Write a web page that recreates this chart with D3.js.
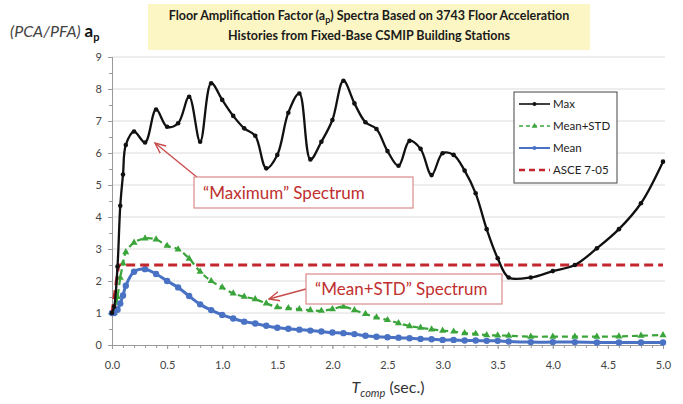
<!DOCTYPE html>
<html>
<head>
<meta charset="utf-8">
<script src="https://cdn.jsdelivr.net/npm/d3@7"></script>
<style>
  body { margin: 0; background: #fff; }
  svg { display: block; font-family: Lato, "Open Sans", sans-serif; }
</style>
</head>
<body>
<div id="chart"></div>
<script>
// periods (sec.) shared by the three spectra
const periods = [0, 0.02, 0.05, 0.075, 0.1, 0.125,
  0.2, 0.3, 0.4, 0.5, 0.6, 0.7, 0.8, 0.9, 1.0, 1.1, 1.2, 1.3, 1.4, 1.5, 1.6, 1.7, 1.8, 1.9,
  2.0, 2.1, 2.2, 2.3, 2.4, 2.5, 2.6, 2.7, 2.8, 2.9, 3.0, 3.1, 3.2, 3.3, 3.4, 3.5, 3.6,
  3.8, 4.0, 4.2, 4.4, 4.6, 4.8, 5.0];

const maxValues = [1.0, 1.2, 2.45, 4.35, 5.33, 6.25,
  6.67, 6.33, 7.36, 6.82, 6.93, 7.76, 6.35, 8.18, 7.66, 7.16, 6.77, 6.54, 5.52, 5.94, 7.26, 7.86, 5.80, 6.35,
  7.03, 8.26, 7.55, 6.96, 6.75, 6.06, 5.60, 6.38, 6.13, 5.31, 5.99, 5.94, 5.45, 4.74, 3.62, 2.71, 2.11,
  2.11, 2.31, 2.50, 3.02, 3.62, 4.43, 5.73];

const meanStdValues = [1.0, 1.02, 1.5, 2.1, 2.55, 2.9,
  3.2, 3.33, 3.30, 3.10, 2.99, 2.70, 2.29, 2.0, 1.8, 1.61, 1.51, 1.43, 1.30, 1.18, 1.15, 1.12, 1.09, 1.07,
  1.12, 1.20, 1.09, 0.97, 0.86, 0.78, 0.68, 0.59, 0.54, 0.49, 0.45, 0.42, 0.37, 0.35, 0.31, 0.30, 0.29,
  0.26, 0.26, 0.26, 0.26, 0.27, 0.29, 0.31];

const meanValues = [1.0, 1.0, 1.1, 1.3, 1.55, 1.85,
  2.29, 2.37, 2.22, 2.0, 1.8, 1.53, 1.27, 1.09, 0.94, 0.83, 0.73, 0.67, 0.60, 0.54, 0.51, 0.48, 0.45, 0.42,
  0.39, 0.37, 0.34, 0.29, 0.26, 0.24, 0.23, 0.21, 0.19, 0.18, 0.16, 0.16, 0.14, 0.14, 0.13, 0.13, 0.11,
  0.09, 0.09, 0.09, 0.08, 0.08, 0.08, 0.08];

// ASCE 7-05 design line
const asceT = [0, 0.06, 5.0];
const asceValues = [1.0, 2.5, 2.5];

const xTickLabels = [0, 0.5, 1, 1.5, 2, 2.5, 3, 3.5, 4, 4.5, 5];
const yTickLabels = [0, 1, 2, 3, 4, 5, 6, 7, 8, 9];
const legendLabels = ["Max", "Mean+STD", "Mean", "ASCE 7-05"];

const width = 683, height = 404;
const margin = { left: 112, right: 20, top: 57, bottom: 59 };

const svg = d3.select("#chart").append("svg")
  .attr("width", width)
  .attr("height", height);

const x = d3.scaleLinear().domain([0, 5]).range([margin.left, width - margin.right]);
const y = d3.scaleLinear().domain([0, 9]).range([height - margin.bottom, margin.top]);

// title box
svg.append("rect")
  .attr("x", 148).attr("y", 4).attr("width", 442).attr("height", 46)
  .attr("fill", "#fcf6c4");

const title1 = svg.append("text")
  .attr("x", 369).attr("y", 20)
  .attr("text-anchor", "middle")
  .style("font-size", "12.5px").style("font-weight", "bold").attr("fill", "#1a1a1a");
title1.append("tspan").text("Floor Amplification  Factor (a");
title1.append("tspan").attr("dy", 3).style("font-size", "9px").text("p");
title1.append("tspan").attr("dy", -3).text(") Spectra Based on 3743 Floor Acceleration");

svg.append("text")
  .attr("x", 369).attr("y", 40)
  .attr("text-anchor", "middle")
  .style("font-size", "12.5px").style("font-weight", "bold").attr("fill", "#1a1a1a")
  .text("Histories from Fixed-Base CSMIP Building Stations");

// y label
const yLabel = svg.append("text").attr("x", 10).attr("y", 37).attr("fill", "#444");
yLabel.append("tspan").style("font-size", "16px").style("font-style", "italic").text("(PCA/PFA) ");
yLabel.append("tspan").style("font-size", "17px").style("font-weight", "bold").attr("fill", "#111").text("a");
yLabel.append("tspan").attr("dy", 4).style("font-size", "11px").style("font-weight", "bold").attr("fill", "#111").text("p");

// gridlines
svg.append("g")
  .selectAll("line")
  .data(yTickLabels.filter(d => d > 0))
  .enter()
  .append("line")
    .attr("x1", x(0)).attr("x2", x(5) + 2)
    .attr("y1", d => y(d)).attr("y2", d => y(d))
    .attr("stroke", "#dcdcdc");

// axes
const xAxis = svg.append("g")
  .attr("transform", `translate(0,${y(0)})`)
  .call(d3.axisBottom(x).tickValues(xTickLabels).tickFormat(d3.format(".1f")).tickSize(4).tickPadding(12));
const xMinor = svg.append("g")
  .attr("transform", `translate(0,${y(0)})`)
  .call(d3.axisBottom(x).ticks(50).tickFormat("").tickSize(3));
const yAxis = svg.append("g")
  .attr("transform", `translate(${x(0)},0)`)
  .call(d3.axisLeft(y).tickValues(yTickLabels).tickSize(4).tickPadding(6));
const yMinor = svg.append("g")
  .attr("transform", `translate(${x(0)},0)`)
  .call(d3.axisLeft(y).ticks(18).tickFormat("").tickSize(3));

[xAxis, xMinor, yAxis, yMinor].forEach(g => {
  g.select(".domain").attr("stroke", "#9a9a9a");
  g.selectAll(".tick line").attr("stroke", "#9a9a9a");
  g.selectAll(".tick text").attr("fill", "#444").style("font-size", "11px").style("font-family", "Lato, sans-serif");
});

// x label
const xLabel = svg.append("text")
  .attr("x", 388).attr("y", 393)
  .attr("text-anchor", "middle").attr("fill", "#333")
  .style("font-size", "16px");
xLabel.append("tspan").style("font-style", "italic").text("T");
xLabel.append("tspan").attr("dy", 4).style("font-style", "italic").style("font-size", "11px").text("comp");
xLabel.append("tspan").attr("dy", -4).text(" (sec.)");

const line = d3.line()
  .x(d => x(d.t))
  .y(d => y(d.v))
  .curve(d3.curveCatmullRom.alpha(0.5));

const maxData = periods.map((t, i) => ({ t, v: maxValues[i] }));
const meanStdData = periods.map((t, i) => ({ t, v: meanStdValues[i] }));
const meanData = periods.map((t, i) => ({ t, v: meanValues[i] }));
const asceData = asceT.map((t, i) => ({ t, v: asceValues[i] }));

const green = "#3aa53a", blue = "#4a72c4", red = "#c4262e";

// Mean+STD
svg.append("path")
  .datum(meanStdData)
  .attr("fill", "none").attr("stroke", green)
  .attr("stroke-width", 2.2).attr("stroke-dasharray", "6,4")
  .attr("d", line);
svg.append("g")
  .selectAll("path")
  .data(meanStdData)
  .enter()
  .append("path")
    .attr("transform", d => `translate(${x(d.t)},${y(d.v)})`)
    .attr("d", d3.symbol().type(d3.symbolTriangle).size(22))
    .attr("fill", green);

// Mean
svg.append("path")
  .datum(meanData)
  .attr("fill", "none").attr("stroke", blue)
  .attr("stroke-width", 3)
  .attr("d", line);
svg.append("g")
  .selectAll("circle")
  .data(meanData)
  .enter()
  .append("circle")
    .attr("cx", d => x(d.t)).attr("cy", d => y(d.v))
    .attr("r", 3.2)
    .attr("fill", blue);

// ASCE 7-05
svg.append("path")
  .datum(asceData)
  .attr("fill", "none").attr("stroke", red)
  .attr("stroke-width", 3).attr("stroke-dasharray", "9,5")
  .attr("d", d3.line().x(d => x(d.t)).y(d => y(d.v)));

// Max
svg.append("path")
  .datum(maxData)
  .attr("fill", "none").attr("stroke", "#111")
  .attr("stroke-width", 2.3)
  .attr("d", line);
svg.append("g")
  .selectAll("circle")
  .data(maxData)
  .enter()
  .append("circle")
    .attr("cx", d => x(d.t)).attr("cy", d => y(d.v))
    .attr("r", 2.3)
    .attr("fill", "#111");

// annotations
const defs = svg.append("defs");
defs.append("marker")
  .attr("id", "arrow")
  .attr("viewBox", "0 0 10 10")
  .attr("refX", 9).attr("refY", 5)
  .attr("markerWidth", 9).attr("markerHeight", 9)
  .attr("orient", "auto")
  .append("path")
    .attr("d", "M0,1 L9,5 L0,9")
    .attr("fill", "none").attr("stroke", "#c84a4a").attr("stroke-width", 1.2);

function callout(bx, by, bw, bh, label, ax1, ay1, ax2, ay2) {
  svg.append("line")
    .attr("x1", ax1).attr("y1", ay1).attr("x2", ax2).attr("y2", ay2)
    .attr("stroke", "#c84a4a").attr("stroke-width", 1.3)
    .attr("marker-end", "url(#arrow)");
  svg.append("rect")
    .attr("x", bx).attr("y", by).attr("width", bw).attr("height", bh)
    .attr("fill", "#fff").attr("stroke", "#d98a8a").attr("stroke-width", 1.2);
  svg.append("text")
    .attr("x", bx + 9).attr("y", by + bh / 2 + 6)
    .attr("fill", "#c0302f")
    .style("font-size", "17px")
    .text(label);
}

callout(194, 177, 219, 31, "\u201cMaximum\u201d Spectrum", 198, 178, 155, 143);
callout(306, 274, 196, 30, "\u201cMean+STD\u201d Spectrum", 306, 289, 269, 299);

// legend
const legend = svg.append("g");
legend.append("rect")
  .attr("x", 514).attr("y", 92).attr("width", 103).attr("height", 91)
  .attr("fill", "#fff").attr("stroke", "#444");

const legendItems = legend.selectAll("g.item")
  .data(legendLabels)
  .enter()
  .append("g")
    .attr("class", "item")
    .attr("transform", (d, i) => `translate(519,${104 + i * 22})`);

const legendStyle = [
  { color: "#111", dash: null, width: 1.6 },
  { color: green, dash: "4,3", width: 1.6 },
  { color: blue, dash: null, width: 2 },
  { color: red, dash: "6,4", width: 2.4 }
];

legendItems.append("line")
  .attr("x1", 0).attr("x2", 31)
  .attr("stroke", (d, i) => legendStyle[i].color)
  .attr("stroke-width", (d, i) => legendStyle[i].width)
  .attr("stroke-dasharray", (d, i) => legendStyle[i].dash);

legendItems.filter((d, i) => i === 0 || i === 2)
  .append("circle")
    .attr("cx", 15.5).attr("r", 2)
    .attr("fill", (d, i) => i === 0 ? "#111" : blue);

legendItems.filter((d, i) => i === 1)
  .append("path")
    .attr("transform", "translate(15.5,0)")
    .attr("d", d3.symbol().type(d3.symbolTriangle).size(14))
    .attr("fill", green);

legendItems.append("text")
  .attr("x", 34).attr("y", 4)
  .attr("fill", "#222")
  .style("font-size", "11.5px")
  .text(d => d);
</script>
</body>
</html>
